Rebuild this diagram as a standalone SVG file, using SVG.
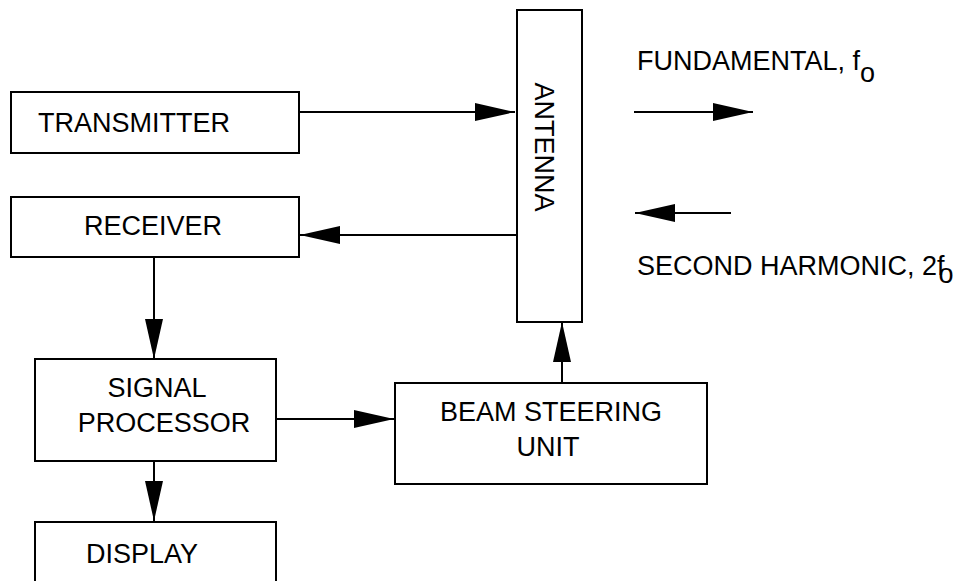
<svg xmlns="http://www.w3.org/2000/svg" width="954" height="581" viewBox="0 0 954 581">
<style>
.box{fill:#fff;stroke:#000;stroke-width:2}
.t{font-family:"Liberation Sans",Arial,sans-serif;font-size:27px;fill:#000}
.c{stroke:#000;stroke-width:2;fill:none}
</style>
<defs>
<marker id="ah" markerWidth="40" markerHeight="18" refX="40" refY="9" orient="auto" markerUnits="userSpaceOnUse">
<path d="M0,0 L40,9 L0,18 Z" fill="#000"/>
</marker>
</defs>
<rect width="954" height="581" fill="#fff"/>
<g id="transmitter"><rect class="box" x="11" y="92" width="288" height="61"/><text class="t" x="38" y="132">TRANSMITTER</text></g>
<g id="receiver"><rect class="box" x="11" y="197" width="288" height="60"/><text class="t" x="153" y="235" text-anchor="middle">RECEIVER</text></g>
<g id="antenna"><rect class="box" x="517" y="10" width="65" height="312"/><text class="t" transform="translate(535,147) rotate(90)" text-anchor="middle">ANTENNA</text></g>
<g id="signal-processor"><rect class="box" x="35" y="359" width="241" height="102"/><text class="t" x="157" y="397" text-anchor="middle">SIGNAL</text><text class="t" x="164" y="432" text-anchor="middle">PROCESSOR</text></g>
<g id="display"><rect class="box" x="35" y="522" width="241" height="70"/><text class="t" x="86" y="563">DISPLAY</text></g>
<g id="beam-steering"><rect class="box" x="395" y="383" width="312" height="101"/><text class="t" x="551" y="421" text-anchor="middle">BEAM STEERING</text><text class="t" x="548" y="456" text-anchor="middle">UNIT</text></g>
<g id="labels">
<text class="t" x="637" y="70">FUNDAMENTAL, f<tspan dy="12">o</tspan></text>
<text class="t" x="637" y="275">SECOND HARMONIC, 2f<tspan dx="-6" dy="8">o</tspan></text>
</g>
<g id="connectors">
<line class="c" x1="299" y1="112" x2="515" y2="112" marker-end="url(#ah)"/>
<line class="c" x1="517" y1="235" x2="300" y2="235" marker-end="url(#ah)"/>
<line class="c" x1="154" y1="257" x2="154" y2="359" marker-end="url(#ah)"/>
<line class="c" x1="154" y1="461" x2="154" y2="521" marker-end="url(#ah)"/>
<line class="c" x1="276" y1="419" x2="394" y2="419" marker-end="url(#ah)"/>
<line class="c" x1="562" y1="383" x2="562" y2="322" marker-end="url(#ah)"/>
<line class="c" x1="634" y1="112" x2="753" y2="112" marker-end="url(#ah)"/>
<line class="c" x1="731" y1="213" x2="635" y2="213" marker-end="url(#ah)"/>
</g>
</svg>
